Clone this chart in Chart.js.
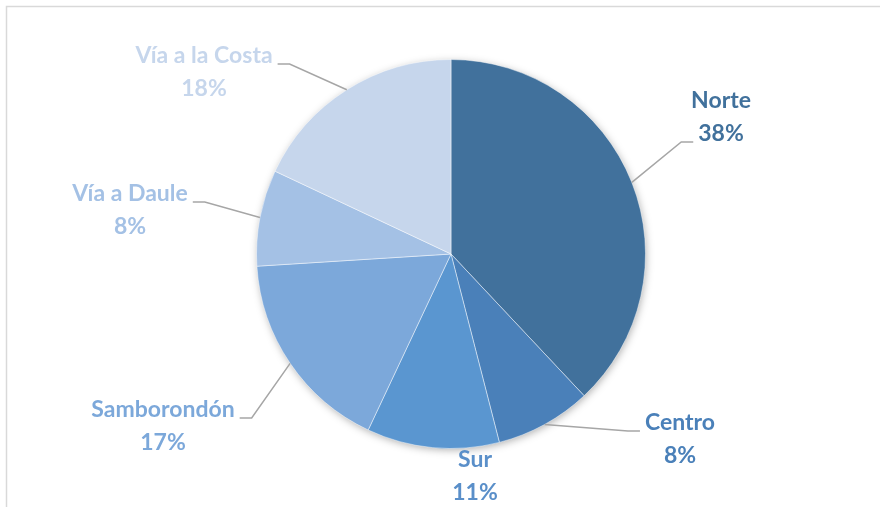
<!DOCTYPE html>
<html>
<head>
<meta charset="utf-8">
<script src="https://cdn.jsdelivr.net/npm/chart.js@4/dist/chart.umd.min.js"></script>
<style>
  html, body { margin: 0; padding: 0; background: #fff; }
  canvas { display: block; }
</style>
</head>
<body>
<canvas id="zonasChart" width="880" height="507"></canvas>
<script>
// Reparto por zona (porcentaje)
const zonas = ["Norte", "Centro", "Sur", "Samborondón", "Vía a Daule", "Vía a la Costa"];
const porcentajes = [38, 8, 11, 17, 8, 18];

const coloresSector = ["#41719c", "#4a80b9", "#5a96d0", "#7ca8da", "#a4c1e5", "#c6d6ec"];
const coloresTexto = ["#41719c", "#4a80b9", "#5a8fc9", "#7ca8da", "#a4c1e5", "#c6d6ec"];

// centro del bloque de etiqueta respecto al centro del pastel (px)
// line: 0 = sin guía, 1 = guía al nombre, 2 = guía al porcentaje
const etiquetas = [
  { dx: 270, dy: -137, line: 2, side: "left" },
  { dx: 229, dy: 185, line: 1, side: "left" },
  { dx: 24, dy: 222, line: 0 },
  { dx: -288, dy: 172, line: 1, side: "right" },
  { dx: -321, dy: -44, line: 1, side: "right" },
  { dx: -247, dy: -182, line: 1, side: "right" }
];

const marcoPlugin = {
  id: "marco",
  beforeDraw(chart) {
    const ctx = chart.ctx;
    ctx.save();
    ctx.strokeStyle = "#d9d9d9";
    ctx.lineWidth = 1.5;
    ctx.strokeRect(6.5, 6.5, chart.width + 20, chart.height + 20);
    ctx.restore();
  }
};

// sombra suave bajo todo el pastel
const sombraPlugin = {
  id: "sombra",
  beforeDatasetsDraw(chart) {
    const arc = chart.getDatasetMeta(0).data[0];
    if (!arc) return;
    const ctx = chart.ctx;
    ctx.save();
    ctx.shadowColor = "rgba(0,0,0,0.35)";
    ctx.shadowBlur = 9;
    ctx.shadowOffsetX = 1;
    ctx.shadowOffsetY = 2;
    ctx.fillStyle = "#fff";
    ctx.beginPath();
    ctx.arc(arc.x, arc.y, arc.outerRadius - 1, 0, Math.PI * 2);
    ctx.fill();
    ctx.restore();
  }
};

const etiquetasPlugin = {
  id: "etiquetas",
  afterDatasetsDraw(chart) {
    const ctx = chart.ctx;
    const arcs = chart.getDatasetMeta(0).data;
    ctx.save();
    ctx.font = "bold 23px Lato";
    ctx.textAlign = "center";
    ctx.textBaseline = "middle";
    arcs.forEach((arc, i) => {
      const et = etiquetas[i];
      const cx = arc.x + et.dx;
      const cy = arc.y + et.dy;
      const nombre = zonas[i];
      const pct = porcentajes[i] + "%";
      const y1 = cy - 16;
      const y2 = cy + 17;

      if (et.line) {
        const mid = (arc.startAngle + arc.endAngle) / 2;
        const x0 = arc.x + Math.cos(mid) * arc.outerRadius;
        const y0 = arc.y + Math.sin(mid) * arc.outerRadius;
        const txt = et.line === 1 ? nombre : pct;
        const w = ctx.measureText(txt).width;
        const ty = (et.line === 1 ? y1 : y2) + 8;
        const sign = et.side === "left" ? -1 : 1;
        const xEnd = cx + sign * (w / 2 + 5);
        const xCodo = xEnd + sign * 12;
        ctx.strokeStyle = "#a6a6a6";
        ctx.lineWidth = 1.5;
        ctx.beginPath();
        ctx.moveTo(x0, y0);
        ctx.lineTo(xCodo, ty);
        ctx.lineTo(xEnd, ty);
        ctx.stroke();
      }

      ctx.fillStyle = coloresTexto[i];
      ctx.fillText(nombre, cx, y1);
      ctx.fillText(pct, cx, y2);
    });
    ctx.restore();
  }
};

new Chart(document.getElementById("zonasChart"), {
  type: "pie",
  data: {
    labels: zonas,
    datasets: [{
      data: porcentajes,
      backgroundColor: coloresSector,
      borderColor: "rgba(255,255,255,0.45)",
      borderWidth: 1
    }]
  },
  options: {
    responsive: false,
    animation: false,
    layout: { padding: { top: 59, bottom: 58, left: 256, right: 234 } },
    plugins: {
      legend: { display: false },
      tooltip: { enabled: false }
    }
  },
  plugins: [marcoPlugin, sombraPlugin, etiquetasPlugin]
});
</script>
</body>
</html>
